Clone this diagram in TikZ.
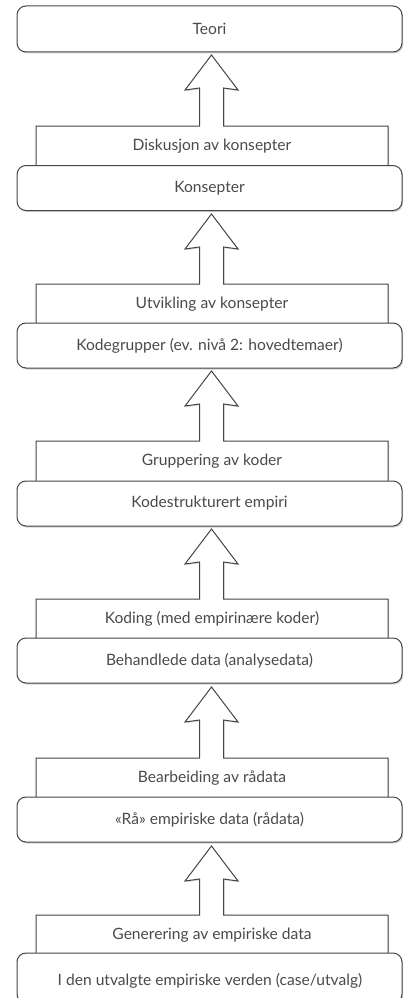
\documentclass[tikz,border=0pt]{standalone}
\usepackage{fontspec}
\setmainfont{Lato}
\usetikzlibrary{shadows}
\definecolor{linegray}{HTML}{454545}
\definecolor{textgray}{HTML}{4A4A4A}
\tikzset{
  box/.style={draw=linegray, line width=1pt, rounded corners=9pt, fill=white,
    minimum width=385pt, minimum height=45pt, inner sep=0pt, text=textgray,
    font=\fontsize{15.6}{18}\selectfont,
    drop shadow={shadow xshift=1.2pt, shadow yshift=-1.5pt, opacity=0.35}},
  proclabel/.style={inner sep=0pt, text=textgray, font=\fontsize{15.6}{18}\selectfont},
  outl/.style={draw=linegray, line width=1pt, fill=white, line join=miter,
    drop shadow={shadow xshift=1.2pt, shadow yshift=-1.2pt, opacity=0.3}}
}
% #1 rect top, #2 rect bottom, #3 arrow tip y
\newcommand\levelshape[3]{%
  \path[outl] (36,#2) -- (36,#1) -- (199.5,#1) -- (199.5,#3+33) -- (185,#3+35)
    -- (211.5,#3) -- (238,#3+35) -- (223.5,#3+33) -- (223.5,#1) -- (388,#1)
    -- (388,#2) -- cycle;}
\begin{document}
\begin{tikzpicture}[x=1pt,y=-1pt]
\useasboundingbox (0,0) rectangle (404,998);

\levelshape{126}{180}{55}
\levelshape{284}{340}{214}
\levelshape{441}{495}{371}
\levelshape{599}{655}{529}
\levelshape{758}{815}{687}
\levelshape{915}{970}{846}

\node[box, minimum height=46pt] (teori) at (209.5,29) {\raisebox{-2pt}{Teori}};
\node[box] (konsepter) at (209.5,188) {Konsepter};
\node[box] (kodegrupper) at (209.5,345.5) {Kodegrupper (ev. nivå 2: hovedtemaer)};
\node[box] (kodestrukturert) at (209.5,503.5) {Kodestrukturert empiri};
\node[box] (behandlede) at (209.5,660.5) {Behandlede data (analysedata)};
\node[box] (raa) at (209.5,819.5) {«Rå» empiriske data (rådata)};
\node[box, minimum height=50pt] (verden) at (209.5,978) {};
\node[proclabel] (verdentext) at (210,981) {I den utvalgte empiriske verden (case/utvalg)};

\node[proclabel] (p1) at (212,146.5) {Diskusjon av konsepter};
\node[proclabel] (p2) at (212,304) {Utvikling av konsepter};
\node[proclabel] (p3) at (212,461.5) {Gruppering av koder};
\node[proclabel] (p4) at (212,619) {Koding (med empirinære koder)};
\node[proclabel] (p5) at (212,778) {Bearbeiding av rådata};
\node[proclabel] (p6) at (212,935) {Generering av empiriske data};
\end{tikzpicture}
\end{document}
